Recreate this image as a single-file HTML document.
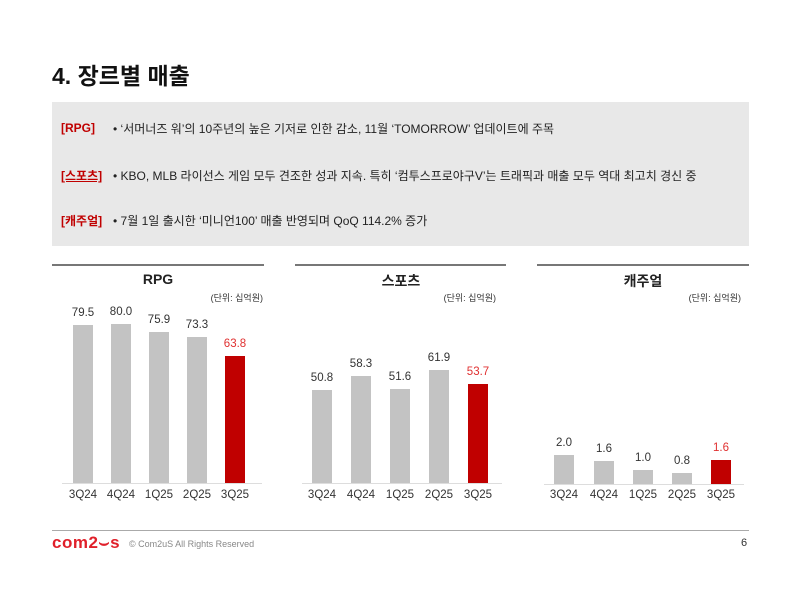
<!DOCTYPE html>
<html><head><meta charset="utf-8"><style>
body{margin:0;width:800px;height:597px;background:#fff;position:relative;overflow:hidden;font-family:"Liberation Sans","Noto Sans CJK KR",sans-serif;color:#222}
div{position:absolute}
.t{white-space:nowrap}
.bar{background:#c3c3c3;width:20px}
.red{background:#c00000}
.v{font-size:11.5px;width:40px;text-align:center;color:#333}
.x{font-size:11.5px;width:40px;text-align:center;color:#333;top:489px}
.line{height:2px;background:#777;top:264px}
.ttl{font-size:14px;font-weight:bold;text-align:center;top:271px;width:212px}
.u{font-size:9px;top:291px;color:#333;text-align:right;width:80px}
.lab{font-size:12px;font-weight:bold;color:#c00000;left:61px}
.tx{font-size:12px;color:#222}
</style></head><body>
<div class="t" style="left:52px;top:57px;font-size:23px;font-weight:bold;color:#111">4. 장르별 매출</div>
<div style="left:52px;top:102px;width:697px;height:144px;background:#e8e8e8"></div>
<div class="t lab" style="top:121px">[RPG]</div>
<div class="t tx" style="left:113px;top:120px">• ‘서머너즈 워’의 10주년의 높은 기저로 인한 감소, 11월 ‘TOMORROW’ 업데이트에 주목</div>
<div class="t lab" style="top:167px;text-decoration:underline">[스포츠]</div>
<div class="t tx" style="left:113px;top:167px">• KBO, MLB 라이선스 게임 모두 견조한 성과 지속. 특히 ‘컴투스프로야구V’는 트래픽과 매출 모두 역대 최고치 경신 중</div>
<div class="t lab" style="top:212px">[캐주얼]</div>
<div class="t tx" style="left:113px;top:212px">• 7월 1일 출시한 ‘미니언100’ 매출 반영되며 QoQ 114.2% 증가</div>

<!-- RPG -->
<div class="line" style="left:52px;width:212px"></div>
<div class="t ttl" style="left:52px">RPG</div>
<div class="t u" style="left:183px">(단위: 십억원)</div>
<div style="left:62px;top:483px;width:200px;height:1px;background:#ddd"></div>
<div class="bar" style="left:73px;top:325px;height:158px"></div>
<div class="bar" style="left:111px;top:324px;height:159px"></div>
<div class="bar" style="left:149px;top:332px;height:151px"></div>
<div class="bar" style="left:187px;top:337px;height:146px"></div>
<div class="bar red" style="left:225px;top:356px;height:127px"></div>
<div class="v" style="left:63px;top:307px">79.5</div>
<div class="v" style="left:101px;top:306px">80.0</div>
<div class="v" style="left:139px;top:314px">75.9</div>
<div class="v" style="left:177px;top:319px">73.3</div>
<div class="v" style="left:215px;top:338px;color:#e03030">63.8</div>
<div class="x" style="left:63px">3Q24</div><div class="x" style="left:101px">4Q24</div><div class="x" style="left:139px">1Q25</div><div class="x" style="left:177px">2Q25</div><div class="x" style="left:215px">3Q25</div>

<!-- Sports -->
<div class="line" style="left:295px;width:211px"></div>
<div class="t ttl" style="left:295px">스포츠</div>
<div class="t u" style="left:416px">(단위: 십억원)</div>
<div style="left:302px;top:483px;width:200px;height:1px;background:#ddd"></div>
<div class="bar" style="left:312px;top:390px;height:93px"></div>
<div class="bar" style="left:351px;top:376px;height:107px"></div>
<div class="bar" style="left:390px;top:389px;height:94px"></div>
<div class="bar" style="left:429px;top:370px;height:113px"></div>
<div class="bar red" style="left:468px;top:384px;height:99px"></div>
<div class="v" style="left:302px;top:372px">50.8</div>
<div class="v" style="left:341px;top:358px">58.3</div>
<div class="v" style="left:380px;top:371px">51.6</div>
<div class="v" style="left:419px;top:352px">61.9</div>
<div class="v" style="left:458px;top:366px;color:#e03030">53.7</div>
<div class="x" style="left:302px">3Q24</div><div class="x" style="left:341px">4Q24</div><div class="x" style="left:380px">1Q25</div><div class="x" style="left:419px">2Q25</div><div class="x" style="left:458px">3Q25</div>

<!-- Casual -->
<div class="line" style="left:537px;width:212px"></div>
<div class="t ttl" style="left:537px">캐주얼</div>
<div class="t u" style="left:661px">(단위: 십억원)</div>
<div style="left:544px;top:484px;width:200px;height:1px;background:#ddd"></div>
<div class="bar" style="left:554px;top:455px;height:29px"></div>
<div class="bar" style="left:594px;top:461px;height:23px"></div>
<div class="bar" style="left:633px;top:470px;height:14px"></div>
<div class="bar" style="left:672px;top:473px;height:11px"></div>
<div class="bar red" style="left:711px;top:460px;height:24px"></div>
<div class="v" style="left:544px;top:437px">2.0</div>
<div class="v" style="left:584px;top:443px">1.6</div>
<div class="v" style="left:623px;top:452px">1.0</div>
<div class="v" style="left:662px;top:455px">0.8</div>
<div class="v" style="left:701px;top:442px;color:#e03030">1.6</div>
<div class="x" style="left:544px">3Q24</div><div class="x" style="left:584px">4Q24</div><div class="x" style="left:623px">1Q25</div><div class="x" style="left:662px">2Q25</div><div class="x" style="left:701px">3Q25</div>

<!-- footer -->
<div style="left:52px;top:530px;width:697px;height:1px;background:#aaa"></div>
<div class="t" style="left:52px;top:533px;font-size:17px;font-weight:bold;color:#e0202a;letter-spacing:0.5px">com2⌣s</div>
<div class="t" style="left:129px;top:539px;font-size:9px;color:#888">© Com2uS All Rights Reserved</div>
<div class="t" style="left:741px;top:537px;font-size:11px;color:#333">6</div>
</body></html>
